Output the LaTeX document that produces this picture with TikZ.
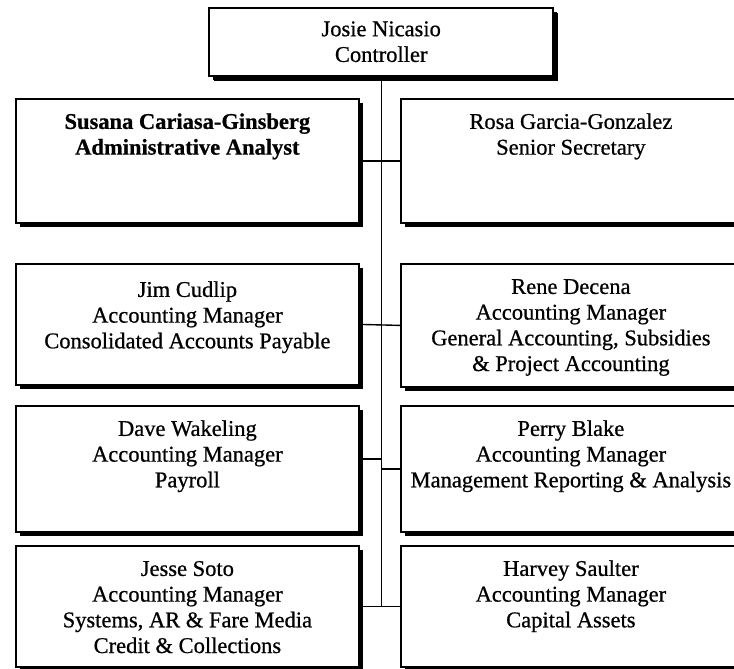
\documentclass[tikz,border=0pt]{standalone}
\usepackage{fontspec}
\setmainfont{Liberation Serif}[FakeBold=0.7]
\usetikzlibrary{shadows}
\newcommand{\orgtext}[4]{\parbox[c][#2][t]{#1}{\centering\rule{0pt}{#3}#4}}
\tikzset{
  orgbox/.style={draw, line width=1.8pt, fill=white, inner sep=0pt, anchor=north west,
    font=\fontsize{22.5}{25.7}\selectfont,
    drop shadow={shadow xshift=4pt, shadow yshift=-4pt, fill=black, opacity=1}},
  conn/.style={line width=1.4pt}
}
\begin{document}
\begin{tikzpicture}[x=1pt,y=-1pt]
\useasboundingbox (0,0) rectangle (734,669);
\clip (0,0) rectangle (734,669);
% top
\node[orgbox, line width=2.4pt, drop shadow={shadow xshift=5pt, shadow yshift=-5pt, fill=black, opacity=1}] (top) at (208,7)
  {\orgtext{344pt}{68pt}{28pt}{Josie Nicasio\\Controller}};
% row 1
\node[orgbox] (L1) at (15,98) {\orgtext{343pt}{124pt}{30pt}{\bfseries Susana Cariasa-Ginsberg\\Administrative Analyst}};
\node[orgbox] (R1) at (400,98) {\orgtext{340pt}{124pt}{30pt}{Rosa Garcia-Gonzalez\\Senior Secretary}};
% row 2
\node[orgbox] (L2) at (15,263) {\orgtext{343pt}{121pt}{33pt}{Jim Cudlip\\Accounting Manager\\Consolidated Accounts Payable}};
\node[orgbox] (R2) at (400,263) {\orgtext{340pt}{123pt}{30pt}{Rene Decena\\Accounting Manager\\General Accounting, Subsidies\\\& Project Accounting}};
% row 3
\node[orgbox] (L3) at (15,405) {\orgtext{343pt}{126pt}{30pt}{Dave Wakeling\\Accounting Manager\\Payroll}};
\node[orgbox] (R3) at (400,405) {\orgtext{340pt}{126pt}{30pt}{Perry Blake\\Accounting Manager\\Management Reporting \& Analysis}};
% row 4
\node[orgbox] (L4) at (15,545) {\orgtext{343pt}{121pt}{30pt}{Jesse Soto\\Accounting Manager\\Systems, AR \& Fare Media\\Credit \& Collections}};
\node[orgbox] (R4) at (400,545) {\orgtext{340pt}{121pt}{30pt}{Harvey Saulter\\Accounting Manager\\Capital Assets}};
% connectors
\draw[conn] (top.south) -- (top.south |- L4.east);
\draw[conn] (L1.east) -- (R1.west);
\draw[conn] (L2.east) -- (R2.west);
\draw[conn] ([yshift=10pt]L3.east) -- ([yshift=10pt]L3.east -| top.south);
\draw[conn] (R3.west) -- (R3.west -| top.south);
\draw[conn] (L4.east) -- (R4.west);
\end{tikzpicture}
\end{document}
